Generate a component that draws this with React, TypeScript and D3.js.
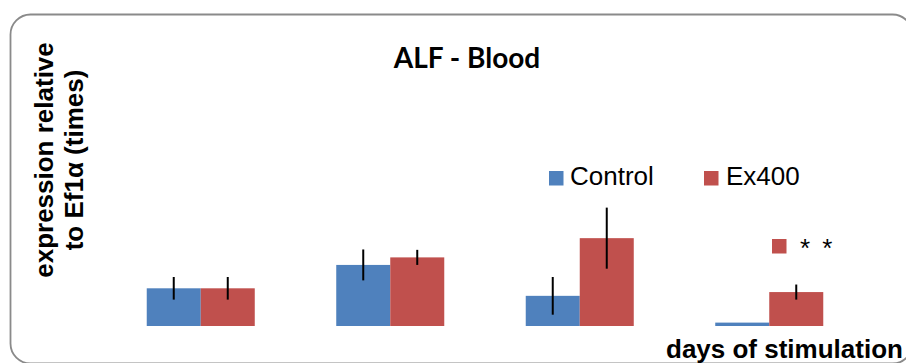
import React from "react";
import * as d3 from "d3";

// chart data (units: times, relative to Ef1a)
const categories = ["1", "2", "3", "4"];
const seriesNames = ["Control", "Ex400"];
const controlValues = [1.0, 1.62, 0.8, 0.09];
const ex400Values = [1.0, 1.82, 2.33, 0.9];
const controlErrors = [0.3, 0.41, 0.5, 0];
const ex400Errors = [0.3, 0.2, 0.81, 0.2];
const sigLabel = "* *";

const colors: Record<string, string> = { Control: "#4F81BD", Ex400: "#C0504D" };

const width = 906;
const height = 363;
const plot = { left: 106, right: 864, top: 137.5, bottom: 326 };

export default function App() {
    const xScale = d3.scaleBand<string>()
        .domain(categories)
        .range([plot.left, plot.right])
        .paddingInner(0.43)
        .paddingOuter(0.215);
    const subScale = d3.scaleBand<string>()
        .domain(seriesNames)
        .range([0, xScale.bandwidth()]);
    const yScale = d3.scaleLinear().domain([0, 5]).range([plot.bottom, plot.top]);

    const rows = categories.map((c, i) => ({
        cat: c,
        vals: [
            { name: "Control", v: controlValues[i], e: controlErrors[i] },
            { name: "Ex400", v: ex400Values[i], e: ex400Errors[i] }
        ]
    }));

    const sans = "'Liberation Sans', Arial, sans-serif";

    return (
        <svg width={width} height={height}
            style={{ position: "absolute", left: 0, top: 0, background: "#fff" }}>
            <rect x={10.5} y={14.5} width={902} height={349} rx={20} ry={20}
                fill="#fff" stroke="#8a8a8a" strokeWidth={1.8} />

            <text x={467} y={68} textAnchor="middle" fontFamily="Lato, 'Open Sans', sans-serif"
                fontWeight="bold" fontSize={28} fill="#000">ALF - Blood</text>

            <g fontFamily={sans} fontWeight="bold" fontSize={26} fill="#000">
                <text transform="rotate(-90)" x={-160} y={52.5} textAnchor="middle">expression relative</text>
                <text transform="rotate(-90)" x={-160} y={82.5} textAnchor="middle">to Ef1α (times)</text>
                <text x={666} y={358}>days of stimulation</text>
            </g>

            {rows.map(r => (
                <g key={r.cat} transform={`translate(${xScale(r.cat)},0)`}>
                    {r.vals.map(d => (
                        <rect key={d.name} x={subScale(d.name)} y={yScale(d.v)}
                            width={subScale.bandwidth()} height={yScale(0) - yScale(d.v)}
                            fill={colors[d.name]} />
                    ))}
                    {r.vals.filter(d => d.e > 0).map(d => {
                        const cx = (subScale(d.name) || 0) + subScale.bandwidth() / 2;
                        return (
                            <line key={d.name + "-err"} x1={cx} x2={cx}
                                y1={yScale(d.v + d.e)} y2={yScale(d.v - d.e)}
                                stroke="#000" strokeWidth={2} />
                        );
                    })}
                </g>
            ))}

            <g fontFamily={sans} fontSize={26} fill="#000">
                <rect x={549} y={171} width={14.5} height={14.5} fill={colors.Control} />
                <text x={570} y={185}>{seriesNames[0]}</text>
                <rect x={704} y={171} width={14.5} height={14.5} fill={colors.Ex400} />
                <text x={726} y={185}>{seriesNames[1]}</text>
                <rect x={772} y={239} width={14.5} height={14.5} fill={colors.Ex400} />
                <text x={800} y={257} xmlSpace="preserve" letterSpacing={2.5}>{sigLabel}</text>
            </g>
        </svg>
    );
}
